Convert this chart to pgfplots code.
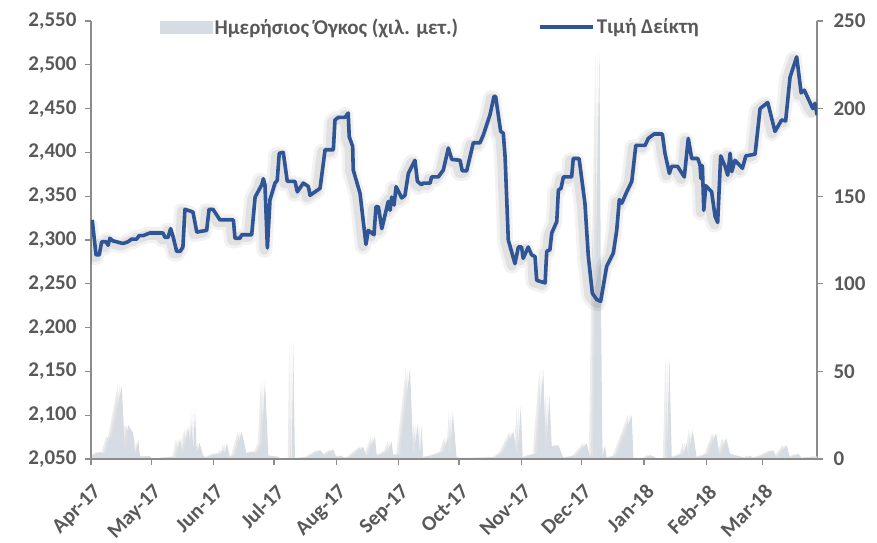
\documentclass[border=0pt]{standalone}
\usepackage{fontspec}
\setmainfont{Carlito}
\usepackage{pgfplots}
\usepackage{pgfplotstable}
\pgfplotsset{compat=1.18}
\definecolor{linecol}{HTML}{2F5597}
\definecolor{volcol}{HTML}{D6DCE4}
\definecolor{txtcol}{HTML}{595959}
\definecolor{axcol}{HTML}{8C8C8C}

\pgfplotstableread{
d v
0.6 2323
2.5 2283
4.1 2283
5.3 2298
7.5 2298
8.5 2294
9.4 2302
10.9 2299
15.9 2296
18.4 2298
20.2 2301
22.7 2301
23.9 2305
25.9 2305
29.3 2308
35.8 2308
36.8 2303
38.3 2303
39.6 2313
40.8 2304
42.6 2287
44.3 2287
45.7 2292
46.7 2335
50.7 2332
52.6 2309
57.5 2311
58.7 2335
60.7 2335
64.1 2323
70.8 2323
71.6 2302
74.1 2302
74.9 2306
79.9 2306
81.6 2349
84.9 2363
85.7 2370
86.5 2363
87.7 2291
89.0 2346
91.5 2365
92.6 2368
93.6 2399
95.6 2400
97.6 2367
101.4 2367
102.6 2355
105.6 2365
108.1 2361
108.9 2351
111.4 2355
113.9 2359
116.4 2403
120.5 2403
121.3 2437
123.0 2440
126.3 2440
127.9 2445
128.4 2418
130.1 2407
130.4 2380
133.8 2353
136.7 2295
137.9 2311
140.7 2306
141.7 2338
142.9 2338
144.6 2313
147.8 2344
148.7 2334
149.5 2349
150.7 2340
151.7 2361
154.5 2348
156.1 2351
157.8 2376
161.1 2391
162.3 2367
164.4 2363
165.2 2365
168.6 2365
169.4 2372
172.7 2372
175.2 2380
177.7 2405
179.4 2392
183.5 2391
184.6 2379
186.8 2379
190.1 2411
193.4 2411
195.1 2420
198.4 2443
200.4 2464
201.2 2464
203.7 2424
205.0 2422
205.9 2395
207.5 2300
210.8 2273
212.5 2292
214.1 2292
214.9 2279
217.4 2292
219.1 2283
220.8 2281
221.6 2254
225.8 2251
226.6 2287
228.2 2289
229.1 2308
231.6 2321
232.4 2357
233.7 2359
234.9 2372
239.0 2372
239.8 2393
242.7 2393
245.6 2342
247.3 2281
249.3 2239
251.5 2232
253.4 2230
254.7 2247
256.4 2270
259.7 2285
261.4 2311
262.7 2346
263.9 2342
266.4 2355
268.9 2367
270.9 2408
275.5 2408
277.1 2416
280.0 2421
284.1 2421
285.4 2399
287.6 2376
288.7 2384
291.7 2384
295.0 2372
297.0 2416
298.7 2393
301.7 2393
302.8 2386
303.3 2370
304.0 2385
304.7 2334
305.7 2362
308.6 2355
310.3 2327
311.6 2320
313.1 2396
315.3 2384
316.6 2374
317.8 2399
318.6 2378
320.2 2391
323.9 2382
325.6 2396
330.2 2398
332.7 2450
336.5 2457
340.1 2424
343.4 2437
345.4 2436
347.6 2486
350.9 2509
353.1 2468
354.7 2471
358.9 2450
360.0 2456
361.0 2443
}\price

\pgfplotstableread{
d v
0 0
2.0 2.3
4.5 4
7.0 3
9.4 12.7
10.3 12
15.3 42
16.9 4
18.5 19.4
21.0 14.7
21.9 3
23.5 10.8
24.4 1.3
29.3 1.7
30.3 0
40.8 1.3
42.3 0.5
44.3 11.8
45.6 2
48.4 17.5
49.2 10
50.1 19.4
50.9 5
51.7 29
52.6 3
53.9 9.3
55.8 2
57.5 0.5
62.5 3.2
64.1 2
65.8 5.1
66.6 3
67.5 9
69.1 1
71.6 2
74.9 15.6
77.4 3
80.7 4.2
82.4 3
84.9 9
86.5 45
88.2 2
93.1 1.3
94.0 0
99.8 0.5
100.6 67
101.4 0.5
108.1 1
113.9 5
116.4 2
120.5 5.5
122.2 0.5
123.8 2
127.1 0.5
128.8 1
135.4 7
137.1 0.5
141.2 12.7
142.1 2
145.3 3
147.8 5
149.5 10
150.3 2
153.7 3
158.6 52
160.3 2
162.5 20
163.6 3
164.4 19.4
165.2 1
170.2 2
175.2 4
177.7 12.7
178.5 1
179.9 27
181.8 1
185.0 0.5
201.7 1
205.0 4
210.0 15.6
212.0 1
213.7 30
214.7 0.5
218.3 2
221.6 3
224.9 51
226.2 2
227.9 36.5
229.1 7
232.4 8
234.9 0.5
241.5 2
246.5 9
248.1 1
249.6 3
250.6 90
252.8 233
253.6 90
254.3 1
255.6 8
256.4 0.5
261.4 2
268.9 25
269.7 0.5
276.3 0.5
278.0 2.3
281.3 0.5
286.3 0.5
287.6 58
288.8 0.5
294.5 3
296.2 9
297.0 0.5
299.2 16.5
301.2 0.5
304.5 2
307.0 3
310.8 14.7
312.8 1
315.8 12
317.8 3
322.7 1.5
326.1 0.5
327.7 2
329.3 0.5
334.3 2
339.3 5
341.0 0.5
345.9 8
347.6 0.5
351.7 3
353.4 0.5
361 1.5
}\volume

\pgfplotsset{
  base/.style={
    scale only axis, width=726pt, height=438pt,
    at={(0pt,0pt)}, anchor=south west,
    xmin=0, xmax=361,
    axis line style={axcol, line width=1.2pt},
    tick style={axcol, line width=1.2pt},
    tick align=outside,
    major tick length=6pt,
    ticklabel style={font=\bfseries\fontsize{21}{23}\selectfont, text=txtcol},
    /pgf/number format/assume math mode=true,
    /pgf/number format/1000 sep={,},
  }
}

\begin{document}
\begin{tikzpicture}
% volume (right axis)
\begin{axis}[base,
  hide x axis,
  axis y line*=right,
  ymin=0, ymax=250, ytick={0,50,100,150,200,250},
  yticklabel style={xshift=7pt},
]
\addplot[draw=none, fill=black, fill opacity=0.07, xshift=-4pt] table[x=d,y=v]{\volume} \closedcycle;
\addplot[draw=none, fill=black, fill opacity=0.05, xshift=-2pt] table[x=d,y=v]{\volume} \closedcycle;
\addplot[draw=none, fill=volcol] table[x=d,y=v]{\volume} \closedcycle;
\end{axis}
% price (left axis)
\begin{axis}[base,
  axis x line*=bottom,
  axis y line*=left,
  ymin=2050, ymax=2550, ytick={2050,2100,...,2550},
  yticklabel style={xshift=-5pt},
  xtick={0,30,61,91,122,153,183,214,244,275,306,334},
  xticklabels={Apr-17,May-17,Jun-17,Jul-17,Aug-17,Sep-17,Oct-17,Nov-17,Dec-17,Jan-18,Feb-18,Mar-18},
  xticklabel style={yshift=-15pt, xshift=1pt, rotate=45, anchor=north east, inner sep=2pt},
  legend columns=2,
  legend cell align=left,
  legend style={at={(0.095,0.986)}, anchor=west, draw=none, fill=none, inner sep=0pt,
    font=\bfseries\fontsize{21}{23}\selectfont, text=txtcol,
    /tikz/every even column/.append style={column sep=78pt}},
]
\addlegendimage{area legend, legend image code/.code={\fill[volcol] (0pt,-6pt) rectangle (52pt,6pt);}}
\addlegendentry{Ημερήσιος Όγκος (χιλ. μετ.)}
\addplot[forget plot, draw=black, opacity=0.05, line width=16pt, xshift=-3pt, yshift=-2pt, line join=round] table[x=d,y=v]{\price};
\addplot[forget plot, draw=black, opacity=0.07, line width=10pt, xshift=-3pt, yshift=-2pt, line join=round] table[x=d,y=v]{\price};
\addplot[linecol, line width=3.6pt, line join=round, legend image code/.code={\draw[linecol, line width=3.6pt] (0pt,0pt) -- (53pt,0pt);}] table[x=d,y=v]{\price};
\addlegendentry{Τιμή Δείκτη}
\end{axis}
\pgfresetboundingbox
\path[use as bounding box] (-91pt,-83pt) rectangle (786pt,459pt);
\end{tikzpicture}
\end{document}
